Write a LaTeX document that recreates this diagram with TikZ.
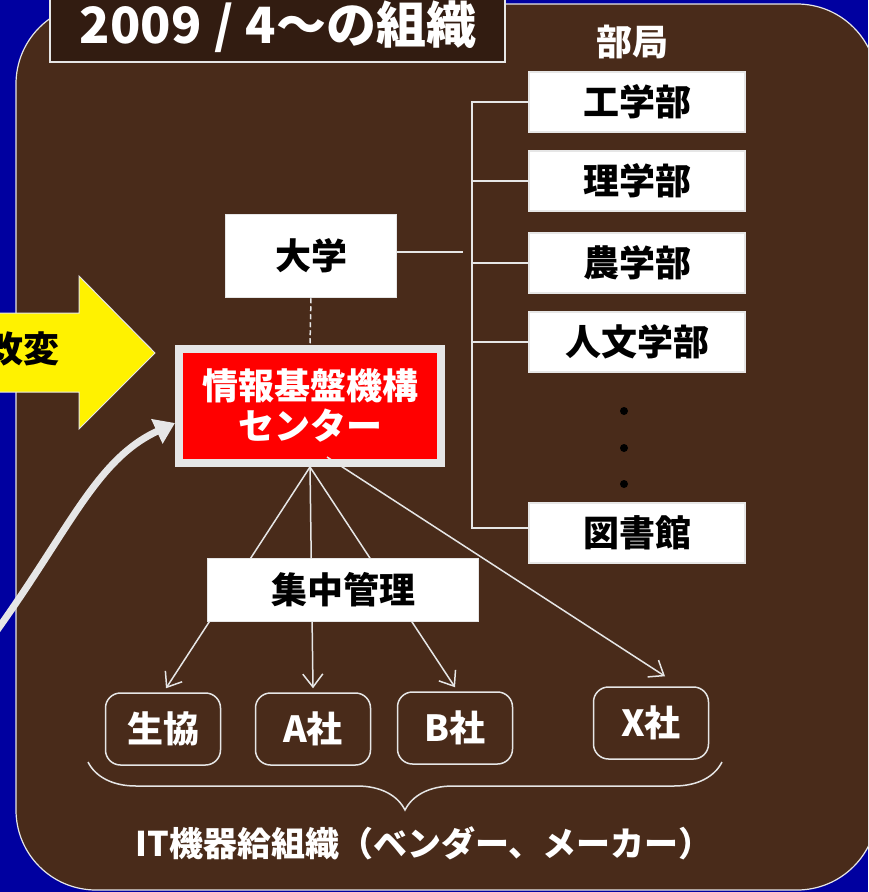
\documentclass[tikz,border=0pt]{standalone}
\usepackage{fontspec}
\setmainfont{Noto Sans CJK JP}
\usetikzlibrary{arrows.meta,decorations.pathreplacing}

\definecolor{bgblue}{RGB}{0,0,160}
\definecolor{boardbrown}{RGB}{73,43,26}
\definecolor{titlebrown}{RGB}{50,28,17}
\definecolor{edgegray}{RGB}{230,230,230}

\tikzset{
  bigjp/.style={font=\fontsize{36}{40}\selectfont\bfseries},
  deptbox/.style={bigjp, draw=edgegray, line width=1.5pt, fill=white, text=black,
    inner sep=0pt, minimum width=216pt, minimum height=60pt},
  vendorbox/.style={bigjp, draw=edgegray, line width=1.5pt, rounded corners=15pt,
    fill=boardbrown, text=white, inner sep=0pt, minimum width=115pt, minimum height=72pt},
  link/.style={draw=edgegray, line width=1.5pt},
  feed/.style={link, -{Straight Barb[length=13pt,width=20pt]}},
}

\begin{document}
\begin{tikzpicture}[x=1pt, y=-1pt]
    % Backdrop
    \useasboundingbox (0,0) rectangle (868,892);
    \clip (0,0) rectangle (868,892);
    \fill[bgblue] (0,0) rectangle (868,892);
    \draw[fill=boardbrown, draw=edgegray, line width=1.2pt, rounded corners=80pt] (16,4) rectangle (877,890);

    % Title
    \node (titlebox) [draw=edgegray, line width=1.5pt, fill=titlebrown, minimum width=455pt, minimum height=74pt] at (277.5,25) {};
    \node (title) [text=white, font=\fontsize{50}{54}\selectfont\bfseries] at (278,27) {2009\hspace{0.25em}/\hspace{0.25em}4〜の組織};

    % Yellow arrow
    \draw[fill=yellow, draw=edgegray, line width=1pt] (-10,313) -- (79,313) -- (79,276) -- (155,353) -- (79,429) -- (79,392) -- (-10,392) -- cycle;
    \node (kaihen) [anchor=east, bigjp, text=black] at (63,349) {改変};

    % Departments
    \node (bukyoku) [bigjp, text=white] at (632,42) {部局};
    \node (kou) [deptbox] at (637,102) {工学部};
    \node (ri) [deptbox] at (637,181) {理学部};
    \node (nou) [deptbox] at (637,263) {農学部};
    \node (jinbun) [deptbox] at (637,342) {人文学部};
    \node (tosho) [deptbox] at (637,533) {図書館};
    \foreach \y in {411,448,484}
        \fill (624,\y) circle (4pt);

    % Bus to departments
    \coordinate (bustop) at (472,102);
    \coordinate (busbot) at (472,528);
    \draw[link] (kou.west) -- (bustop) -- (busbot) -- (tosho.west |- busbot);
    \foreach \d in {ri,nou,jinbun}
        \draw[link] (\d.west) -- (\d.west -| bustop);

    % University and centre
    \node (daigaku) [deptbox, minimum width=171pt, minimum height=83pt] at (311,256) {大学};
    \coordinate (daigakuend) at (463,252);
    \draw[link] (daigaku.east |- daigakuend) -- (daigakuend);
    \node (kiban) [bigjp, fill=red, draw=edgegray, line width=8pt, text=white, align=center,
        inner sep=0pt, minimum width=262pt, minimum height=114pt] at (310,406) {情報基盤機構\\センター};
    \draw[link, dash pattern=on 5pt off 3pt] (daigaku.south) -- (kiban.north);

    % Vendors
    \node (seikyo) [vendorbox] at (163,729) {生協};
    \node (asha) [vendorbox] at (313,729) {A社};
    \node (bsha) [vendorbox] at (455,728) {B社};
    \node (xsha) [vendorbox] at (651,723) {X社};

    % Delivery arrows
    \draw[feed] (kiban.south) -- ([xshift=3pt,yshift=4pt]seikyo.north);
    \draw[feed] (kiban.south) -- ([yshift=4pt]asha.north);
    \draw[feed] (kiban.south) -- ([yshift=4pt]bsha.north);
    \draw[feed] ([xshift=17pt,yshift=10pt]kiban.south) -- ([xshift=14pt,yshift=10pt]xsha.north);
    \node (shuchu) [deptbox, minimum width=271pt, minimum height=63pt] at (343,590) {集中管理};

    % Brace and label
    \coordinate (bracel) at (88,762);
    \coordinate (bracer) at (722,762);
    \draw[link, decorate, decoration={brace, mirror, amplitude=48pt, aspect=0.5}] (bracel) -- (bracer);
    \node (itlabel) [text=white, font=\fontsize{34}{38}\selectfont\bfseries] at (424,843) {IT機器給組織（ベンダー、メーカー）};

    % Curved arrow into the centre
    \coordinate (curvestart) at (-10,640);
    \draw[edgegray, line width=7pt, -{Triangle[length=20pt,width=26pt]}] (curvestart) .. controls (70,530) and (95,460) .. ([yshift=-17pt]kiban.west);
\end{tikzpicture}
\end{document}
